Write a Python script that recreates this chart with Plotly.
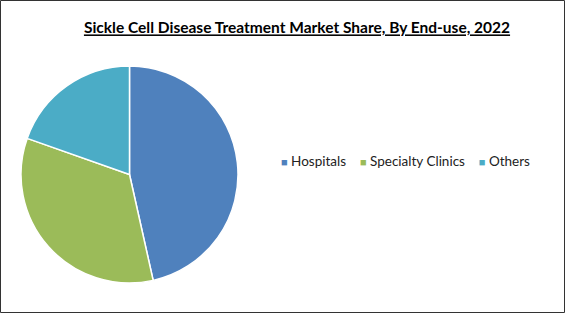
import plotly.graph_objects as go

labels = ["Hospitals", "Specialty Clinics", "Others"]
values = [46.5, 33.9, 19.6]
colors = ["#4F81BD", "#9BBB59", "#4BACC6"]
title = "Sickle Cell Disease Treatment Market Share, By End-use, 2022"

W, H = 565, 313

fig = go.Figure(go.Pie(
    labels=labels, values=values, sort=False, direction="clockwise", rotation=0,
    marker=dict(colors=colors, line=dict(color="white", width=1.5)),
    textinfo="none", hoverinfo="label+percent", showlegend=False,
    domain=dict(x=[21/W, 238/W], y=[30/H, 247/H]),
))

# legend drawn as one text line: coloured square + label per category
legend_text = "&nbsp;&nbsp;&nbsp;&nbsp;".join(
    f"<span style='color:{c}; font-size:11px'>■</span>&nbsp;{l}" for l, c in zip(labels, colors)
)

fig.update_layout(
    width=W, height=H,
    margin=dict(l=0, r=0, t=0, b=0, autoexpand=False),
    paper_bgcolor="white",
    font=dict(family="Lato, Open Sans, sans-serif", color="#000000"),
    title=dict(text="<b><u>" + title + "</u></b>", x=297/W, xanchor="center",
               y=1 - 28/H, yanchor="middle", font=dict(size=15.5, color="#000000")),
    annotations=[dict(text=legend_text, xref="paper", yref="paper", x=279/W, y=1 - 161/H,
                      xanchor="left", yanchor="middle", showarrow=False,
                      font=dict(size=13.5, color="#222222"))],
    shapes=[dict(type="rect", xref="paper", yref="paper", x0=0.5/W, x1=1 - 0.5/W,
                 y0=0.5/H, y1=1 - 0.5/H, line=dict(color="#333333", width=1))],
)

fig.write_html("out.html")
